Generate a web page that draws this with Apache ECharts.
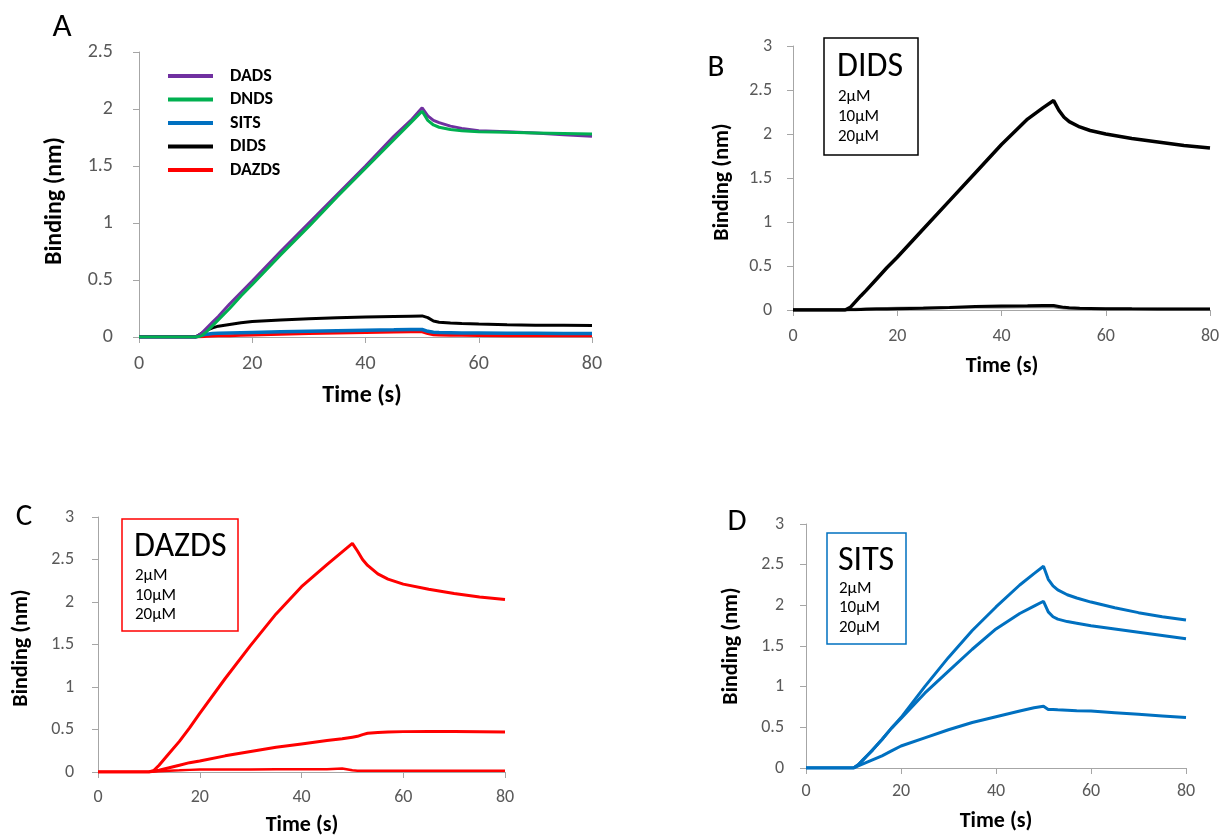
<!DOCTYPE html>
<html><head><meta charset="utf-8">
<script src="https://cdn.jsdelivr.net/npm/echarts@6/dist/echarts.min.js"></script>
<style>html,body{margin:0;padding:0;background:#fff}#c{width:1223px;height:835px}</style>
</head><body><div id="c"></div>
<script>
// time points (s)
const T = [0,5,10,11,12,13,14,16,18,20,25,30,35,40,45,48,50,51,52,53,55,57,60,65,70,75,80];
// Panel A
const A_DADS  = [0,0,0,0.03,0.08,0.13,0.18,0.29,0.39,0.49,0.75,1.0,1.25,1.5,1.76,1.9,2.01,1.94,1.9,1.88,1.85,1.83,1.81,1.8,1.79,1.775,1.76];
const A_DNDS  = [0,0,0,0.01,0.05,0.1,0.15,0.25,0.36,0.46,0.72,0.97,1.23,1.48,1.73,1.88,1.98,1.9,1.86,1.84,1.82,1.81,1.8,1.795,1.79,1.785,1.78];
const A_SITS  = [0,0,0,0.015,0.025,0.03,0.032,0.035,0.038,0.04,0.045,0.05,0.055,0.06,0.063,0.065,0.066,0.05,0.042,0.04,0.038,0.036,0.035,0.033,0.032,0.031,0.03];
const A_DIDS  = [0,0,0,0.03,0.06,0.08,0.095,0.11,0.125,0.135,0.15,0.16,0.168,0.175,0.18,0.183,0.185,0.17,0.14,0.13,0.122,0.118,0.114,0.108,0.104,0.102,0.1];
const A_DAZDS = [0,0,0,0.003,0.006,0.008,0.01,0.012,0.015,0.018,0.024,0.03,0.035,0.04,0.043,0.045,0.046,0.03,0.02,0.018,0.016,0.015,0.014,0.012,0.011,0.01,0.01];
// Panel B (DIDS)
const B_2  = [0,0,0,0.005,0.01,0.012,0.015,0.018,0.02,0.022,0.025,0.028,0.03,0.032,0.033,0.034,0.034,0.025,0.02,0.018,0.015,0.013,0.012,0.01,0.01,0.01,0.01];
const B_10 = [0,0,0,0.002,0.004,0.006,0.008,0.01,0.012,0.015,0.02,0.028,0.04,0.045,0.048,0.05,0.05,0.04,0.03,0.025,0.02,0.018,0.015,0.013,0.012,0.011,0.01];
const B_20 = [0,0,0,0.03,0.095,0.16,0.22,0.35,0.48,0.6,0.92,1.24,1.56,1.88,2.17,2.3,2.38,2.27,2.19,2.14,2.08,2.04,2.0,1.95,1.91,1.87,1.84];
// Panel C (DAZDS)
const C_2  = [0,0,0,0.005,0.01,0.013,0.016,0.02,0.025,0.028,0.03,0.03,0.032,0.032,0.033,0.04,0.02,0.016,0.015,0.015,0.015,0.015,0.015,0.015,0.015,0.015,0.015];
const C_10 = [0,0,0,0.01,0.02,0.035,0.05,0.08,0.11,0.13,0.19,0.24,0.29,0.33,0.37,0.39,0.41,0.42,0.44,0.455,0.465,0.47,0.475,0.477,0.476,0.474,0.472];
const C_20 = [0,0,0,0.02,0.08,0.15,0.22,0.36,0.52,0.69,1.1,1.49,1.86,2.18,2.44,2.59,2.69,2.6,2.5,2.43,2.33,2.27,2.21,2.15,2.1,2.06,2.03];
// Panel D (SITS)
const D_2  = [0,0,0,0.025,0.05,0.075,0.1,0.15,0.21,0.27,0.37,0.47,0.56,0.63,0.7,0.74,0.76,0.72,0.718,0.715,0.71,0.705,0.7,0.68,0.66,0.64,0.62];
const D_10 = [0,0,0,0.04,0.1,0.16,0.22,0.35,0.49,0.61,0.92,1.19,1.46,1.71,1.9,1.99,2.05,1.92,1.86,1.83,1.8,1.78,1.75,1.71,1.67,1.63,1.59];
const D_20 = [0,0,0,0.04,0.1,0.16,0.22,0.35,0.49,0.62,1.0,1.36,1.69,1.98,2.25,2.39,2.48,2.32,2.24,2.19,2.13,2.09,2.04,1.97,1.91,1.86,1.82];
const conc = ['2µM','10µM','20µM'];

const FONT = 'Carlito, Lato';
const zip = v => T.map((t,i)=>[t,v[i]]);
const chart = echarts.init(document.getElementById('c'), null, {renderer:'canvas'});

const grids = [
  {left:139, top:52, width:453, height:285},
  {left:793, top:46, width:417, height:264},
  {left:98, top:517, width:407, height:255},
  {left:806, top:524, width:380, height:244}
];
const fs = [20,18,18,18];
const xm = [17,17,16,14];
const ym = [26,21,24,22];
const xAxis = grids.map((g,i)=>({
  gridIndex:i, type:'value', min:0, max:80, interval:20,
  axisLine:{lineStyle:{color:'#a6a6a6', width:1}},
  axisTick:{show:true, inside:false, length:6, lineStyle:{color:'#a6a6a6'}},
  axisLabel:{color:'#595959', fontFamily:FONT, fontSize:fs[i], margin:xm[i]},
  splitLine:{show:false}
}));
const yAxis = grids.map((g,i)=>({
  gridIndex:i, type:'value', min:0, max: i===0?2.5:3, interval:0.5,
  axisLine:{show:true, lineStyle:{color:'#a6a6a6', width:1}},
  axisTick:{show:true, inside:false, length:6, lineStyle:{color:'#a6a6a6'}},
  axisLabel:{color:'#595959', fontFamily:FONT, fontSize:fs[i], margin:ym[i]},
  splitLine:{show:false}
}));

function ln(name, data, color, gi, w, z){
  return {name, type:'line', xAxisIndex:gi, yAxisIndex:gi, data:zip(data), showSymbol:false, symbol:'none',
    smooth:false, lineStyle:{color, width:w}, itemStyle:{color}, z:z||2, animation:false};
}
const series = [
  ln('DAZDS', A_DAZDS, '#ff0000', 0, 3, 2),
  ln('SITS', A_SITS, '#0070c0', 0, 3.5, 3),
  ln('DIDS', A_DIDS, '#000000', 0, 3, 4),
  ln('DADS', A_DADS, '#7030a0', 0, 3, 5),
  ln('DNDS', A_DNDS, '#00b050', 0, 3, 6),
  ln('DIDS '+conc[0], B_2, '#7f7f7f', 1, 2.5),
  ln('DIDS '+conc[1], B_10, '#000000', 1, 3),
  ln('DIDS '+conc[2], B_20, '#000000', 1, 3.5),
  ln('DAZDS '+conc[0], C_2, '#ff0000', 2, 2.5),
  ln('DAZDS '+conc[1], C_10, '#ff0000', 2, 3),
  ln('DAZDS '+conc[2], C_20, '#ff0000', 2, 3),
  ln('SITS '+conc[0], D_2, '#0070c0', 3, 3),
  ln('SITS '+conc[1], D_10, '#0070c0', 3, 3),
  ln('SITS '+conc[2], D_20, '#0070c0', 3, 3)
];

function txt(x,y,s,size,opt){
  opt = opt||{};
  return {type:'text', x, y, rotation:opt.rot||0, z:10,
    style:{text:s, fill:opt.color||'#000', font:(opt.bold?'bold ':'')+size+'px '+FONT,
      textAlign:opt.align||'center', textVerticalAlign:'middle'}};
}
function box(x1,y1,x2,y2,color){
  return {type:'rect', z:9, shape:{x:x1,y:y1,width:x2-x1,height:y2-y1}, style:{fill:'#fff', stroke:color, lineWidth:1.5}};
}
const graphic = [
  txt(62,28,'A',33), txt(716,68,'B',31), txt(24,517,'C',31), txt(737,522,'D',31),
  txt(362,396,'Time (s)',24,{bold:true}), txt(55,201,'Binding (nm)',24,{bold:true, rot:Math.PI/2}),
  txt(1002,366,'Time (s)',22,{bold:true}), txt(722,182,'Binding (nm)',22,{bold:true, rot:Math.PI/2}),
  txt(302,825,'Time (s)',22,{bold:true}), txt(21,648,'Binding (nm)',22,{bold:true, rot:Math.PI/2}),
  txt(996,821,'Time (s)',22,{bold:true}), txt(731,646,'Binding (nm)',22,{bold:true, rot:Math.PI/2}),
  box(824,38,918,155,'#000000'),
  txt(837,67,'DIDS',34,{align:'left'}),
  txt(838,97,conc[0],17,{align:'left'}), txt(838,117,conc[1],17,{align:'left'}), txt(838,137,conc[2],17,{align:'left'}),
  box(122,519,238,631,'#ff0000'),
  txt(134,547,'DAZDS',34,{align:'left'}),
  txt(135,576,conc[0],17,{align:'left'}), txt(135,596,conc[1],17,{align:'left'}), txt(135,615,conc[2],17,{align:'left'}),
  box(827,533,906,644,'#0070c0'),
  txt(838,561,'SITS',34,{align:'left'}),
  txt(839,589,conc[0],17,{align:'left'}), txt(839,608,conc[1],17,{align:'left'}), txt(839,628,conc[2],17,{align:'left'})
];

chart.setOption({
  animation:false,
  grid:grids,
  xAxis, yAxis, series, graphic,
  legend:{
    data:['DADS','DNDS','SITS','DIDS','DAZDS'],
    orient:'vertical', left:168, top:67, itemWidth:45, itemHeight:4, itemGap:5.5, padding:0,
    icon:'rect', selectedMode:false,
    textStyle:{fontFamily:FONT, fontWeight:'bold', fontSize:18, lineHeight:18, color:'#000', padding:[0,0,0,12]}
  }
});
</script></body></html>
